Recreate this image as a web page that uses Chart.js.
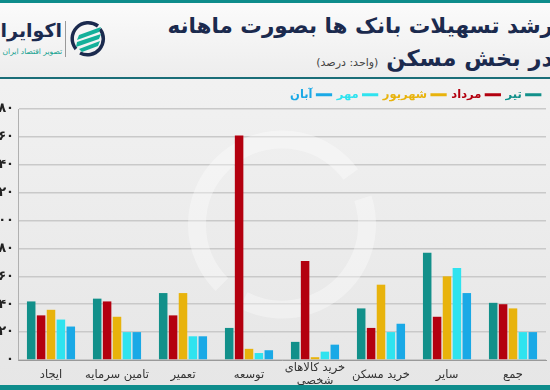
<!DOCTYPE html>
<html>
<head>
<meta charset="utf-8">
<script src="https://cdn.jsdelivr.net/npm/chart.js@4"></script>
<style>
  html, body { margin:0; padding:0; }
  body { width:550px; height:390px; overflow:hidden; position:relative;
         background:linear-gradient(#f4f4f4, #e6e6e6); font-family:"DejaVu Sans", sans-serif; }
  #topbar { position:absolute; left:0; top:0; width:550px; height:3px; background:#0f8d8c; }
  #header { position:absolute; left:0; top:3px; width:550px; height:74px;
            background:linear-gradient(#fbfbfb, #ededed); border-bottom:2px solid #1a6e78; }
  .t1 { position:absolute; right:-3px; top:10px; direction:rtl; white-space:nowrap;
        font-weight:bold; font-size:21.5px; color:#1b2a4e; }
  .t2 { position:absolute; right:-3px; top:42px; direction:rtl; white-space:nowrap;
        font-weight:bold; font-size:22.5px; color:#1b2a4e; }
  .t2 span { font-weight:normal; font-size:11px; color:#444; }
  #logo { position:absolute; left:0; top:14px; width:110px; height:50px; }
  .lname { position:absolute; right:48px; top:2px; direction:rtl; white-space:nowrap;
           font-weight:bold; font-size:19px; color:#1b2a4e; }
  .lsub { position:absolute; right:48px; top:30px; direction:rtl; white-space:nowrap;
          font-size:7.5px; color:#12a08f; }
  .lsep { position:absolute; left:65px; top:4px; width:1px; height:36px; background:#999; }
  #bottombar { position:absolute; left:0; top:385px; width:550px; height:5px; background:#0f8d8c; }
  #wrap { position:absolute; left:-8px; top:82px; width:560px; height:306px; }
</style>
</head>
<body>
<div id="topbar"></div>
<div id="header">
  <div class="t1">رشد تسهیلات بانک ها بصورت ماهانه</div>
  <div class="t2">در بخش مسکن <span>(واحد: درصد)</span></div>
  <div id="logo">
    <div class="lname">اکوایران</div>
    <div class="lsub">تصویر اقتصاد ایران</div>
    <div class="lsep"></div>
    <svg style="position:absolute;left:68px;top:2px" width="40" height="40" viewBox="0 0 40 40">
      <path d="M8 30 A16 16 0 0 1 30 7" fill="none" stroke="#1b2a4e" stroke-width="3.5"/>
      <path d="M32 10 A16 16 0 0 1 12 34" fill="none" stroke="#1b2a4e" stroke-width="3.5"/>
      <path d="M11 16 L33 8 L31 13 L9 21 Z" fill="#14b09a"/>
      <path d="M9 23 L33 15 L31 20 L8 28 Z" fill="#14b09a"/>
      <path d="M11 30 L32 22 L30 27 L14 33 Z" fill="#14b09a"/>
    </svg>
  </div>
</div>
<div id="wrap"><canvas id="c"></canvas></div>
<div id="bottombar"></div>
<script>
const categories = ['ایجاد', 'تامین سرمایه', 'تعمیر', 'توسعه', ['خرید کالاهای', 'شخصی'], 'خرید مسکن', 'سایر', 'جمع'];
const seriesNames = ['تیر', 'مرداد', 'شهریور', 'مهر', 'آبان'];
const seriesColors = ['#12908a', '#b3000f', '#e8b30c', '#2fe3ef', '#1aa9e6'];

const tir      = [42, 44, 48, 23, 13, 37, 77, 41];
const mordad   = [32, 42, 32, 161, 71, 23, 31, 40];
const shahrivar= [36, 31, 48, 8, 2, 54, 60, 37];
const mehr     = [29, 20, 17, 5, 6, 20, 66, 20];
const aban     = [24, 20, 17, 7, 11, 26, 48, 20];

const persianDigits = ['۰','۱','۲','۳','۴','۵','۶','۷','۸','۹'];
const toFa = v => String(v).replace(/\d/g, d => persianDigits[d]);

const values = [tir, mordad, shahrivar, mehr, aban];

const watermark = {
  id: 'watermark',
  beforeDatasetsDraw(chart) {
    const {ctx, chartArea} = chart;
    const cx = (chartArea.left + chartArea.right) / 2, cy = (chartArea.top + chartArea.bottom) / 2 - 10;
    ctx.save();
    ctx.strokeStyle = 'rgba(255,255,255,0.35)';
    ctx.lineWidth = 18;
    ctx.beginPath(); ctx.arc(cx, cy, 85, Math.PI * 0.75, Math.PI * 1.8); ctx.stroke();
    ctx.beginPath(); ctx.arc(cx, cy, 85, Math.PI * 1.9, Math.PI * 0.65); ctx.stroke();
    ctx.restore();
  }
};

const legendH = {
  id: 'legendH',
  beforeInit(chart) {
    const fit = chart.legend.fit;
    chart.legend.fit = function() { fit.call(this); this.height = 27; };
  }
};

new Chart(document.getElementById('c'), {
  type: 'bar',
  data: {
    labels: categories,
    datasets: seriesNames.map((n, i) => ({
      label: n,
      data: values[i],
      backgroundColor: seriesColors[i],
      borderWidth: 0,
      categoryPercentage: 0.75,
      barPercentage: 0.86
    }))
  },
  options: {
    responsive: true,
    maintainAspectRatio: false,
    animation: false,
    layout: { padding: { right: 6 } },
    plugins: {
      tooltip: { enabled: false },
      legend: {
        position: 'top',
        align: 'start',
        rtl: true,
        labels: {
          font: { family: 'DejaVu Sans', size: 11.5, weight: 'bold' },
          padding: 7,
          boxWidth: 15,
          usePointStyle: true,
          generateLabels(chart) {
            return chart.data.datasets.map((d, i) => ({
              text: d.label,
              fontColor: d.backgroundColor,
              strokeStyle: d.backgroundColor,
              fillStyle: d.backgroundColor,
              lineWidth: 3,
              pointStyle: 'line',
              datasetIndex: i
            }));
          }
        }
      }
    },
    scales: {
      x: {
        grid: { display: false },
        border: { color: '#9a9a9a' },
        ticks: { color: '#333', font: { family: 'DejaVu Sans', size: 11.5, lineHeight: 1.15 }, padding: 0,
                 crossAlign: 'center', maxRotation: 0, autoSkip: false },
        afterFit(s) { s.height = 28; }
      },
      y: {
        min: 0, max: 180,
        ticks: { stepSize: 20, color: '#222', font: { family: 'DejaVu Sans', size: 13, weight: 'bold' }, padding: 4,
                 callback: v => toFa(v) },
        grid: { color: '#c9c9c9', lineWidth: 1.5, drawTicks: false },
        border: { color: '#b0b0b0' },
        afterFit(s) { s.width = 26; }
      }
    }
  },
  plugins: [watermark, legendH]
});
</script>
</body>
</html>
